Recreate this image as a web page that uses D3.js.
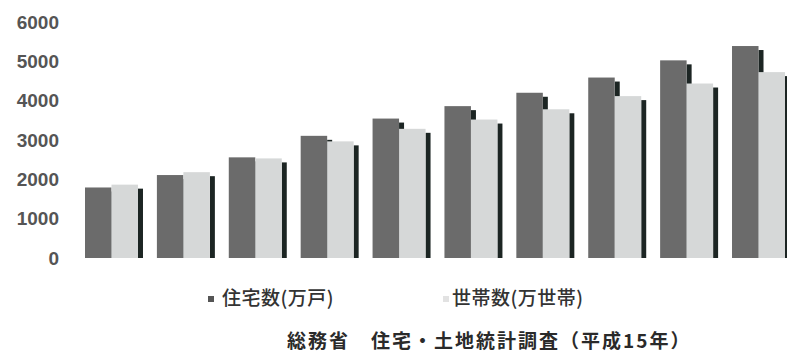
<!DOCTYPE html>
<html><head><meta charset="utf-8">
<script src="https://cdn.jsdelivr.net/npm/d3@7"></script>
<style>
html,body{margin:0;padding:0;background:#fff;}
svg{display:block;}
</style></head>
<body>
<svg id="chart" width="787" height="353"></svg>
<script>
// Data
const years = ["1958","1963","1968","1973","1978","1983","1988","1993","1998","2003"];
const houses = [1793, 2109, 2559, 3106, 3545, 3861, 4201, 4588, 5025, 5389];      // 住宅数(万戸)
const households = [1865, 2182, 2532, 2965, 3284, 3520, 3781, 4116, 4436, 4726]; // 世帯数(万世帯)
const seriesNames = ["住宅数(万戸)", "世帯数(万世帯)"];
const yTicks = [0, 1000, 2000, 3000, 4000, 5000, 6000];
const sourceText = "総務省　住宅・土地統計調査（平成15年）";

const seriesValues = [houses, households];
const colors = ["#6b6b6b", "#d6d8d8"];
const shadowColor = "#1c2523";

const svg = d3.select("#chart");

const y = d3.scaleLinear().domain([0, 6000]).range([258, 22]);
const x = d3.scaleBand().domain(years).range([85, 785]).paddingInner(0.263).paddingOuter(0);
const xs = d3.scaleBand().domain(d3.range(seriesNames.length)).range([0, x.bandwidth()]);

// Y axis labels
const yAxis = d3.axisLeft(y).tickValues(yTicks).tickSize(0).tickPadding(0).tickFormat(d3.format("d"));
const gy = svg.append("g").attr("transform", "translate(59,0)").call(yAxis);
gy.select(".domain").remove();
gy.selectAll("text")
  .attr("font-family", "'Liberation Sans', Arial, sans-serif")
  .attr("font-weight", "bold")
  .attr("font-size", 19)
  .attr("fill", "#555");

// Bars with shadow
const groups = svg.append("g").selectAll("g").data(years).join("g")
  .attr("transform", d => `translate(${x(d)},0)`);

groups.each(function(yr, i) {
  const g = d3.select(this);
  seriesValues.forEach((vals, s) => {
    const v = vals[i];
    const bx = xs(s);
    const bw = xs.bandwidth();
    g.append("rect")
      .attr("x", bx + bw)
      .attr("y", y(v) + 4)
      .attr("width", 5)
      .attr("height", y(0) - y(v) - 4)
      .attr("fill", shadowColor);
    g.append("rect")
      .attr("x", bx)
      .attr("y", y(v))
      .attr("width", bw)
      .attr("height", y(0) - y(v))
      .attr("fill", colors[s]);
  });
});

// Legend
const legend = svg.append("g");
const legendPos = [{mx: 208, tx: 222}, {mx: 443, tx: 452}];
seriesNames.forEach((name, s) => {
  legend.append("rect")
    .attr("x", legendPos[s].mx).attr("y", 296)
    .attr("width", 6).attr("height", 6)
    .attr("fill", s === 0 ? "#555" : "#e2e2e2");
  legend.append("text")
    .attr("x", legendPos[s].tx).attr("y", 300)
    .attr("font-family", "'Noto Sans CJK JP', sans-serif")
    .attr("font-weight", 500)
    .attr("font-size", 19)
    .attr("letter-spacing", 0.5)
    .attr("fill", "#333")
    .attr("dominant-baseline", "middle")
    .text(name);
});

// Source
svg.append("text")
  .attr("x", 287).attr("y", 343)
  .attr("font-family", "'Noto Sans CJK JP', sans-serif")
  .attr("font-weight", "bold")
  .attr("font-size", 19)
  .attr("letter-spacing", 2)
  .attr("fill", "#2a2a2a")
  .attr("dominant-baseline", "middle")
  .text(sourceText);
</script>
</body></html>
